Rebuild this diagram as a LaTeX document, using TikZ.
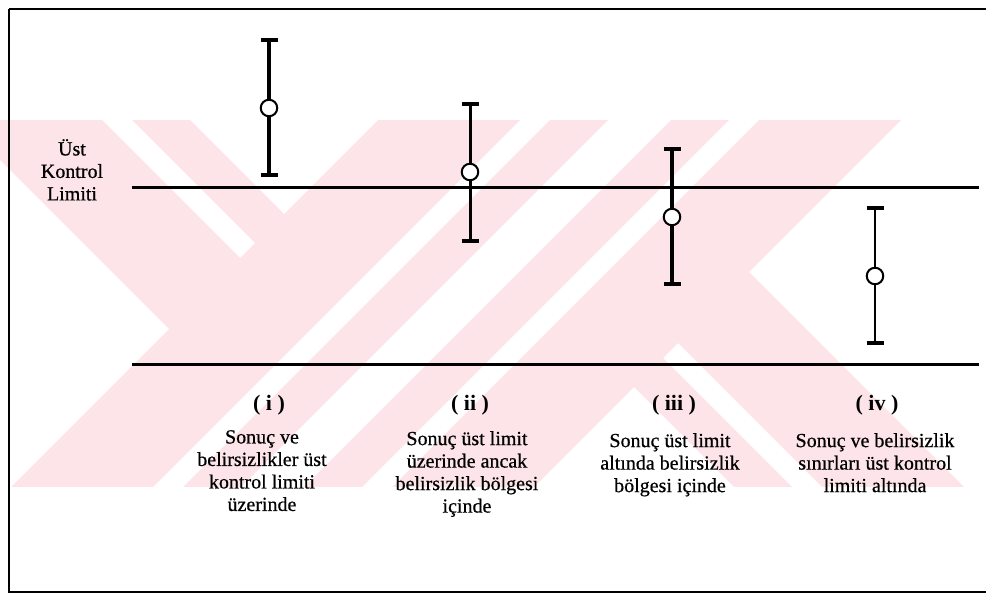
\documentclass[tikz,border=0pt]{standalone}
\usepackage{fontspec}
\setmainfont{Liberation Serif}
\newfontfamily\scanrm{Liberation Serif}[FakeBold=0.6]
\definecolor{markpink}{RGB}{252,228,232}
\begin{document}
\begin{tikzpicture}[x=1pt,y=-1pt,
  lbl/.style={align=center,anchor=north,inner sep=0pt,font=\scanrm\fontsize{20}{22.5}\selectfont},
  numlbl/.style={anchor=base,inner sep=0pt,font=\fontsize{22}{24}\selectfont\bfseries},
  limitline/.style={line width=3.5pt},
  capline/.style={line width=4pt},
  meanpt/.style={circle,draw,fill=white,line width=2pt,minimum size=16.5pt,inner sep=0pt},
  band/.style={fill=markpink,draw=none}]
\useasboundingbox (0,0) rectangle (986,596);

% pale background emblem made of diagonal bands
\begin{scope}
  \clip (0,121) rectangle (986,486);
  \fill[band] (-160,0) -- (-18,0) -- (246,264) -- (175,335) -- cycle;
  \fill[band] (12,0) -- (70,0) -- (290,220) -- (261,249) -- cycle;
  \fill[band] (498,0) -- (640,0) -- (40,600) -- (-102,600) -- cycle;
  \fill[band] (670,0) -- (728,0) -- (128,600) -- (70,600) -- cycle;
  \fill[band] (791,0) -- (849,0) -- (249,600) -- (191,600) -- cycle;
  \fill[band] (879,0) -- (1021,0) -- (421,600) -- (279,600) -- cycle;
  \fill[band] (628,381) -- (657,352) -- (905,600) -- (847,600) -- cycle;
  \fill[band] (672,337) -- (743,266) -- (1077,600) -- (935,600) -- cycle;
\end{scope}

% frame
\draw[line width=2.5pt] (9,9) -- (986,9);
\draw[line width=2.5pt] (9,9) -- (9,592) -- (986,592);

% control limit lines
\coordinate (ul) at (132,187.5);
\coordinate (ur) at (979,187.5);
\coordinate (ll) at (132,364.5);
\coordinate (lr) at (979,364.5);
\draw[limitline] (ul) -- (ur);
\draw[limitline] (ll) -- (lr);

\node[lbl] (ust) at (72,139) {Üst\\Kontrol\\Limiti};

% error bars: top cap, mean, bottom cap
\foreach \n/\x/\t/\m/\b/\w in {1/269/40/108/175/3.4, 2/470/104/172/241/3.0, 3/672/149/217/284/3.4, 4/875/208/276/343/2.0}{
  \coordinate (t\n) at (\x,\t);
  \coordinate (b\n) at (\x,\b);
  \draw[line width=\w pt] (t\n) -- (b\n);
  \draw[capline] ([xshift=-8.5pt]t\n) -- ([xshift=8.5pt]t\n);
  \draw[capline] ([xshift=-8.5pt]b\n) -- ([xshift=8.5pt]b\n);
  \node[meanpt] (m\n) at (\x,\m) {};
}

% case labels
\node[numlbl] (n1) at (269,410) {( i )};
\node[numlbl] (n2) at (470,410) {( ii )};
\node[numlbl] (n3) at (674,410) {( iii )};
\node[numlbl] (n4) at (877,410) {( iv )};

\node[lbl] (d1) at (262,430) {Sonuç ve\\belirsizlikler üst\\kontrol limiti\\üzerinde};
\node[lbl] (d2) at (467,431) {Sonuç üst limit\\üzerinde ancak\\belirsizlik bölgesi\\içinde};
\node[lbl] (d3) at (670,433) {Sonuç üst limit\\altında belirsizlik\\bölgesi içinde};
\node[lbl] (d4) at (875,433) {Sonuç ve belirsizlik\\sınırları üst kontrol\\limiti altında};
\end{tikzpicture}
\end{document}
